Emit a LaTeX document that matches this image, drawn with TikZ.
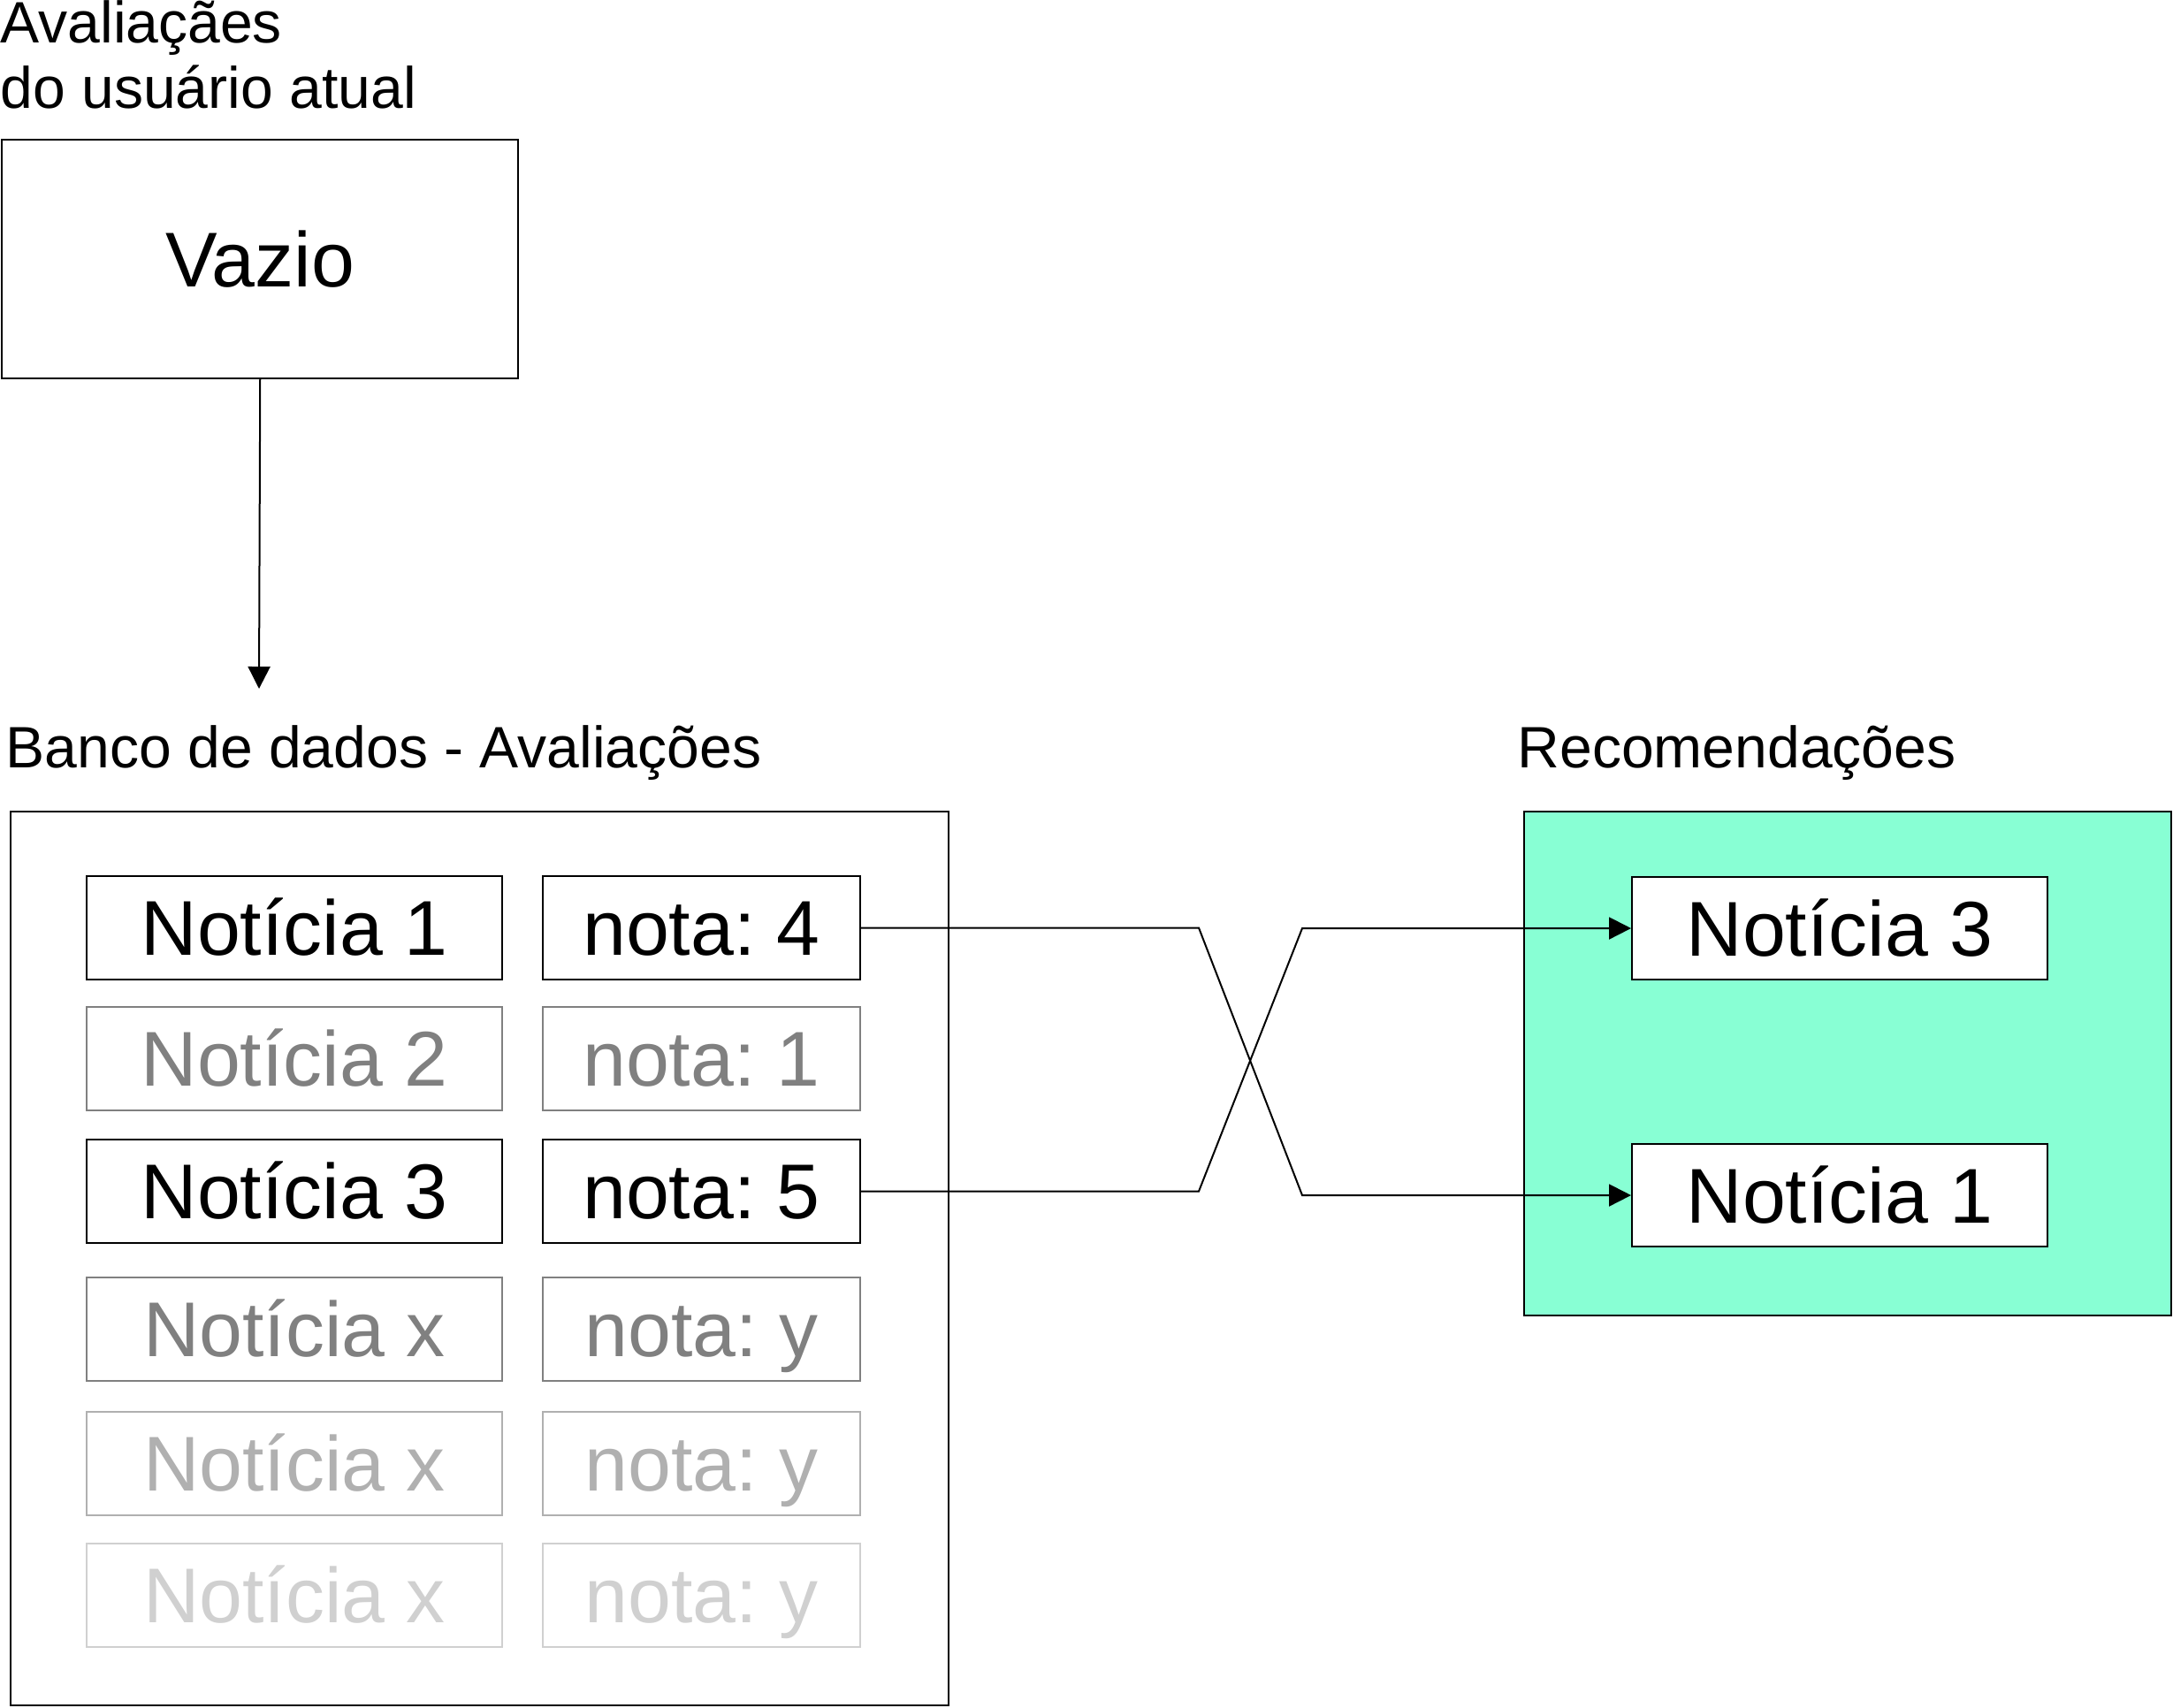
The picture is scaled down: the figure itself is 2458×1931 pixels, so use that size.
\documentclass[tikz,border=0pt]{standalone}
\usepackage{fontspec}
\setmainfont{Liberation Sans}
\usetikzlibrary{arrows.meta}
\definecolor{recfill}{RGB}{136,255,212}
\definecolor{gA}{RGB}{128,128,128}
\definecolor{gB}{RGB}{176,176,176}
\definecolor{gC}{RGB}{208,208,208}
\frenchspacing
\begin{document}
\frenchspacing
\begin{tikzpicture}[x=0.1mm,y=-0.1mm,
  lw/.style={line width=0.2mm},
  bigtext/.style={font=\fontsize{25pt}{30pt}\selectfont\frenchspacing, text height=17.9pt, text depth=0pt},
  hdr/.style={font=\fontsize{18.8pt}{21.1pt}\selectfont\frenchspacing, inner sep=0pt, anchor=base west},
  cell/.style={draw, lw, fill=white, inner sep=0pt, bigtext, anchor=north west, minimum height=11.7mm},
  leftcell/.style={cell, minimum width=47mm},
  rightcell/.style={cell, minimum width=35.9mm},
  tipped/.style={lw, -{Triangle[length=2.5mm,width=2.5mm]}}
]
\useasboundingbox (0,0) rectangle (2458,1931);

% top label and Vazio box
\node[hdr] (t1) at (0,48) {Avaliaçães};
\node[hdr] (t2) at (0,122) {do usuário atual};
\node[draw, lw, inner sep=0pt, anchor=north west, minimum width=58.35mm, minimum height=27mm,
      bigtext] (vazio) at (1.5,157) {Vazio};
\coordinate (arrowend) at (293,779);
\draw[tipped] (vazio.south) -- (arrowend);

% database
\node[hdr] (dbl) at (6,868) {Banco de dados - Avaliações};
\node[draw, lw, inner sep=0pt, anchor=north west, minimum width=106.1mm, minimum height=101.1mm] (db) at (11,917) {};

\node[leftcell] (a1) at (97,990) {Notícia 1};
\node[rightcell] (n1) at (613,990) {nota: 4};
\node[leftcell, draw=gA, text=gA] (a2) at (97,1138) {Notícia 2};
\node[rightcell, draw=gA, text=gA] (n2) at (613,1138) {nota: 1};
\node[leftcell] (a3) at (97,1288) {Notícia 3};
\node[rightcell] (n3) at (613,1288) {nota: 5};
\node[leftcell, draw=gA, text=gA] (a4) at (97,1444) {Notícia x};
\node[rightcell, draw=gA, text=gA] (n4) at (613,1444) {nota: y};
\node[leftcell, draw=gB, text=gB] (a5) at (97,1596) {Notícia x};
\node[rightcell, draw=gB, text=gB] (n5) at (613,1596) {nota: y};
\node[leftcell, draw=gC, text=gC] (a6) at (97,1745) {Notícia x};
\node[rightcell, draw=gC, text=gC] (n6) at (613,1745) {nota: y};

% recommendations
\node[hdr] (recl) at (1716,868) {Recomendações};
\node[draw, lw, fill=recfill, inner sep=0pt, anchor=north west, minimum width=73.2mm, minimum height=57mm] (rec) at (1723,917) {};
\node[leftcell, minimum height=11.6mm] (r3) at (1845,991) {Notícia 3};
\node[leftcell, minimum height=11.6mm] (r1) at (1845,1293) {Notícia 1};

% crossing connectors
\coordinate (bendL) at (1356,0);
\coordinate (bendR) at (1473,0);
\draw[tipped] (n1.east) -- (n1.east -| bendL) -- (r1.west -| bendR) -- (r1.west);
\draw[tipped] (n3.east) -- (n3.east -| bendL) -- (r3.west -| bendR) -- (r3.west);
\end{tikzpicture}
\end{document}
